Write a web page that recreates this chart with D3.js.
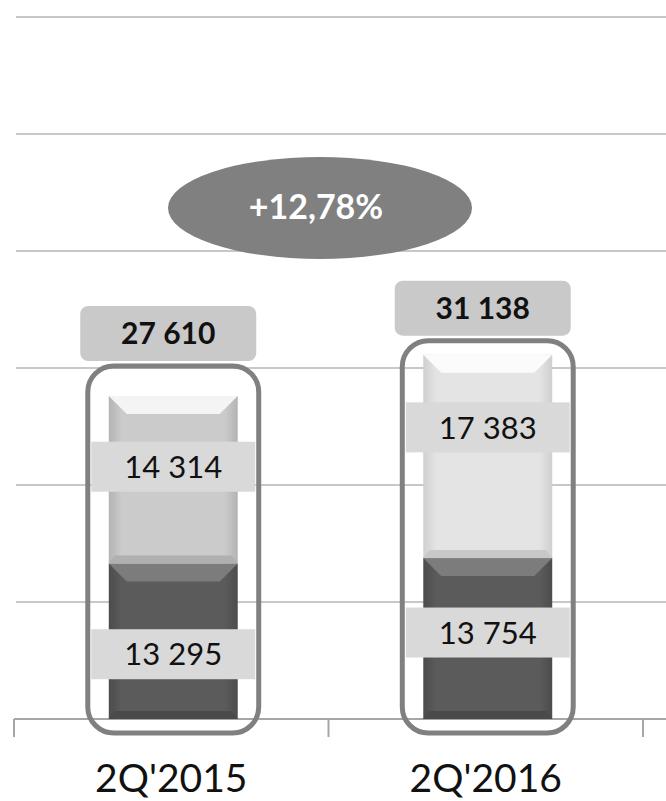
<!DOCTYPE html>
<html>
<head>
<meta charset="utf-8">
<script src="https://cdn.jsdelivr.net/npm/d3@7"></script>
<style>
  body { margin: 0; background: #fff; }
  text { font-family: Lato, "Open Sans", sans-serif; }
</style>
</head>
<body>
<div id="chart"></div>
<script>
// data
var categories = ["2Q'2015", "2Q'2016"];
var lowerValues = [13295, 13754];
var upperValues = [14314, 17383];
var totalLabels = ["27 610", "31 138"];
var lowerLabels = ["13 295", "13 754"];
var upperLabels = ["14 314", "17 383"];
var growthLabel = "+12,78%";
var yTicks = [0, 10000, 20000, 30000, 40000, 50000, 60000];

var svgWidth = 666;
var svgHeight = 801;

var svg = d3.select("#chart")
    .append("svg")
    .attr("width", svgWidth)
    .attr("height", svgHeight);

var x = d3.scaleBand()
    .domain(categories)
    .range([14, 643])
    .padding(0);

var y = d3.scaleLinear()
    .domain([0, 60000])
    .range([719, 17]);

var barWidth = x.bandwidth() * 0.41;

// gridlines
svg.append("g").selectAll("line")
    .data(yTicks.slice(1))
    .enter()
    .append("line")
    .attr("x1", 16)
    .attr("x2", svgWidth)
    .attr("y1", d => y(d))
    .attr("y2", d => y(d))
    .attr("stroke", "#c8c8c8")
    .attr("stroke-width", 2);

// x axis line + ticks at band edges
svg.append("line")
    .attr("x1", 14).attr("x2", svgWidth)
    .attr("y1", y(0)).attr("y2", y(0))
    .attr("stroke", "#a6a6a6").attr("stroke-width", 2);

var edges = categories.map(c => x(c)).concat([x(categories[categories.length - 1]) + x.bandwidth()]);
svg.append("g").selectAll("line")
    .data(edges)
    .enter()
    .append("line")
    .attr("x1", d => d).attr("x2", d => d)
    .attr("y1", y(0)).attr("y2", y(0) + 18)
    .attr("stroke", "#a6a6a6").attr("stroke-width", 2);

// gradients for the bevelled bars
var defs = svg.append("defs");
function sideGradient(id, edge, mid) {
    var g = defs.append("linearGradient").attr("id", id)
        .attr("x1", "0").attr("x2", "1").attr("y1", "0").attr("y2", "0");
    g.append("stop").attr("offset", "0").attr("stop-color", edge);
    g.append("stop").attr("offset", "0.1").attr("stop-color", mid);
    g.append("stop").attr("offset", "0.9").attr("stop-color", mid);
    g.append("stop").attr("offset", "1").attr("stop-color", edge);
}
sideGradient("upper0", "#b3b3b3", "#cbcbcb");
sideGradient("upper1", "#cfcfcf", "#e4e4e4");
sideGradient("lower", "#4c4c4c", "#5b5b5b");

var upperTop = ["#f4f4f4", "#fbfbfb"];
var upperBottom = ["#b0b0b0", "#c8c8c8"];

function bevelBar(g, cx, y0, y1, fill, topFill, bottomFill) {
    var x0 = cx - barWidth / 2, x1 = cx + barWidth / 2;
    var bev = 18;
    g.append("rect")
        .attr("x", x0).attr("y", y1)
        .attr("width", barWidth).attr("height", y0 - y1)
        .attr("fill", fill);
    g.append("path")
        .attr("d", `M${x0},${y1} L${x1},${y1} L${x1 - bev},${y1 + bev} L${x0 + bev},${y1 + bev} Z`)
        .attr("fill", topFill);
    g.append("path")
        .attr("d", `M${x0},${y0} L${x1},${y0} L${x1 - 6},${y0 - 8} L${x0 + 6},${y0 - 8} Z`)
        .attr("fill", bottomFill);
}

var bars = svg.append("g");
categories.forEach(function(c, i) {
    var cx = x(c) + x.bandwidth() / 2 + 2;
    var yMid = y(lowerValues[i]);
    var yTop = y(lowerValues[i] + upperValues[i]);
    bevelBar(bars, cx, y(0), yMid, "url(#lower)", "#7c7c7c", "#4a4a4a");
    bevelBar(bars, cx, yMid, yTop, "url(#upper" + i + ")", upperTop[i], upperBottom[i]);
});

// outlines, total boxes, segment labels
var outlinePad = [30, 14];
var upperShift = [-13, -29];
var lowerShift = [13, -6];

categories.forEach(function(c, i) {
    var cx = x(c) + x.bandwidth() / 2 + 2;
    var yMid = y(lowerValues[i]);
    var yTop = y(lowerValues[i] + upperValues[i]);
    var oTop = yTop - outlinePad[i];

    svg.append("rect")
        .attr("x", cx - barWidth / 2 - 21)
        .attr("y", oTop)
        .attr("width", barWidth + 42)
        .attr("height", y(0) + 14 - oTop)
        .attr("rx", 26)
        .attr("fill", "none")
        .attr("stroke", "#808080")
        .attr("stroke-width", 5);

    // total box
    svg.append("rect")
        .attr("x", cx - 88 - 5)
        .attr("y", oTop - 60)
        .attr("width", 176)
        .attr("height", 55)
        .attr("rx", 8)
        .attr("fill", "#c9c9c9");
    svg.append("text")
        .attr("x", cx - 5)
        .attr("y", oTop - 32)
        .attr("dy", "0.35em")
        .attr("text-anchor", "middle")
        .attr("font-size", 30)
        .attr("font-weight", "bold")
        .attr("fill", "#111")
        .text(totalLabels[i]);

    // segment labels
    var segs = [
        { label: upperLabels[i], cy: (yMid + yTop) / 2 + upperShift[i] },
        { label: lowerLabels[i], cy: (y(0) + yMid) / 2 + lowerShift[i] }
    ];
    segs.forEach(function(s) {
        svg.append("rect")
            .attr("x", cx - 82)
            .attr("y", s.cy - 25)
            .attr("width", 164)
            .attr("height", 50)
            .attr("fill", "#d9d9d9");
        svg.append("text")
            .attr("x", cx)
            .attr("y", s.cy)
            .attr("dy", "0.36em")
            .attr("text-anchor", "middle")
            .attr("font-size", 31)
            .attr("fill", "#111")
            .text(s.label);
    });

    // category labels
    svg.append("text")
        .attr("x", x(c) + x.bandwidth() / 2)
        .attr("y", 792)
        .attr("text-anchor", "middle")
        .attr("font-size", 39)
        .attr("fill", "#111")
        .text(c);
});

// growth ellipse
svg.append("ellipse")
    .attr("cx", 320).attr("cy", 208)
    .attr("rx", 152).attr("ry", 51)
    .attr("fill", "#808080");
svg.append("text")
    .attr("x", 316).attr("y", 216)
    .attr("dy", "0.1em")
    .attr("text-anchor", "middle")
    .attr("font-size", 34)
    .attr("font-weight", "bold")
    .attr("fill", "#fff")
    .text(growthLabel);
</script>
</body>
</html>
